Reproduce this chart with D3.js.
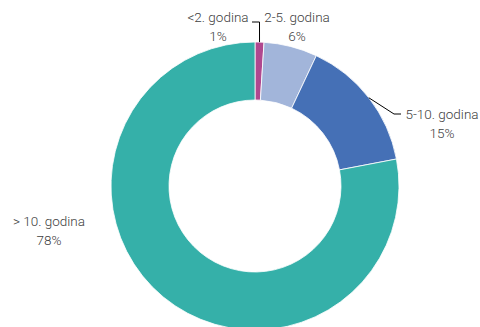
<!DOCTYPE html>
<html>
<head>
<meta charset="utf-8">
<script src="https://cdn.jsdelivr.net/npm/d3@7"></script>
<style>
  body { margin: 0; background: #fff; }
  text { font-family: Roboto, "Noto Sans", sans-serif; font-size: 13.5px; font-weight: 300; fill: #404040; }
</style>
</head>
<body>
<div id="chart"></div>
<script>
// Data
const categories = ['<2. godina', '2-5. godina', '5-10. godina', '> 10. godina'];
const values = [1, 6, 15, 78];
const colors = ['#B0488F', '#A2B5DA', '#4570B6', '#35B0A9'];

const C = {
  width: 480,
  height: 327,
  cx: 255,
  cy: 186,
  outer: 144,
  inner: 86,
  line_height: 19,
};

const svg = d3.select('#chart').append('svg')
  .attr('width', C.width)
  .attr('height', C.height);

const g = svg.append('g').attr('transform', `translate(${C.cx},${C.cy})`);

const pie = d3.pie().sort(null).value(d => d.value);
const arc = d3.arc().innerRadius(C.inner).outerRadius(C.outer);

const slices = pie(categories.map((c, i) => ({name: c, value: values[i], color: colors[i]})));

g.selectAll('path')
  .data(slices)
  .join('path')
  .attr('d', arc)
  .attr('fill', d => d.data.color)
  .attr('stroke', '#fff')
  .attr('stroke-width', 0.8);

// Label placements (relative to chart centre), with optional leader lines
const label_pos = [
  {x: -37, y: -169, leader: true, elbow: [4.5, -164], end: [-3, -164]},
  {x: 42, y: -169, leader: false},
  {x: 187, y: -72, leader: true, elbow: [139, -72], end: [146, -72]},
  {x: -206, y: 35, leader: false},
];

function midpoint_on_outer(d){
  const a = (d.startAngle + d.endAngle) / 2;
  return [Math.sin(a) * C.outer, -Math.cos(a) * C.outer];
}

slices.forEach((d, i) => {
  const p = label_pos[i];
  if(p.leader){
    const start = midpoint_on_outer(d);
    g.append('polyline')
      .attr('points', [start, p.elbow, p.end].map(q => q.join(',')).join(' '))
      .attr('fill', 'none')
      .attr('stroke', '#000')
      .attr('stroke-width', 1);
  }
  const t = g.append('text').attr('text-anchor', 'middle');
  t.append('tspan')
    .attr('x', p.x)
    .attr('y', p.y)
    .attr('dy', '0.35em')
    .text(d.data.name);
  t.append('tspan')
    .attr('x', p.x)
    .attr('y', p.y + C.line_height)
    .attr('dy', '0.35em')
    .text(d.data.value + '%');
});
</script>
</body>
</html>
